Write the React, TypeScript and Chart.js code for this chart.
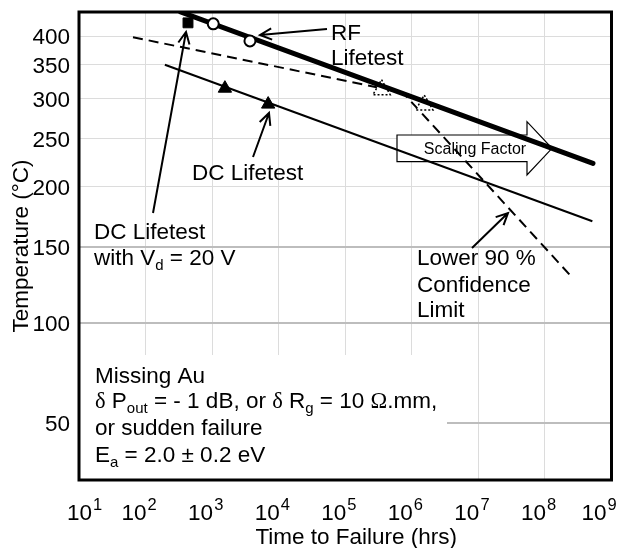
import React, { useEffect, useRef } from 'react';
import { Chart, registerables } from 'chart.js';

Chart.register(...registerables);

// ---------- data (time to failure in hours, temperature in °C) ----------
const rfFitTime = [335, 5.27e8];
const rfFitTemp = [449, 223];
const rfTime = [1040, 3700];
const rfTemp = [424, 391];
const dcVdTime = [434];
const dcVdTemp = [426];
const dcFitTime = [195, 5.16e8];
const dcFitTemp = [350, 170];
const dcTime = [1556, 6950];
const dcTemp = [314, 292];
const confTime = [64.7, 7.33e5, 2.61e8];
const confTemp = [398, 308, 128];
const extrapTime = [3.51e5, 1.54e6];
const extrapTemp = [312, 291];

const tempTicks = [50, 100, 150, 200, 250, 300, 350, 400];
const timeExponents = [1, 2, 3, 4, 5, 6, 7, 8, 9];
const tempTop = 448.8; // °C at top of plot
const tempBottom = 26.8; // °C at bottom of plot

const FONT = "'Liberation Sans', Arial, sans-serif";
const SERIF = "'Liberation Serif', 'Times New Roman', serif";
const FS = 22.5;

// Arrhenius transform: 1000 / T(K)
const inv = (T: number) => 1000 / (T + 273);
const pts = (ts: number[], Ts: number[]) => ts.map((t, i) => ({ x: t, y: inv(Ts[i]) }));

type Seg = [string, 'n' | 'sub' | 'serif'];

function rich(ctx: CanvasRenderingContext2D, x: number, y: number, segs: Seg[], size = FS) {
  let cx = x;
  ctx.textAlign = 'left';
  ctx.textBaseline = 'alphabetic';
  for (const [t, kind] of segs) {
    if (kind === 'sub') {
      ctx.font = `${Math.round(size * 0.68)}px ${FONT}`;
      ctx.fillText(t, cx, y + 5);
    } else if (kind === 'serif') {
      ctx.font = `${size}px ${SERIF}`;
      ctx.fillText(t, cx, y);
    } else {
      ctx.font = `${size}px ${FONT}`;
      ctx.fillText(t, cx, y);
    }
    cx += ctx.measureText(t).width;
  }
}

function arrow(ctx: CanvasRenderingContext2D, x1: number, y1: number, x2: number, y2: number) {
  const a = Math.atan2(y2 - y1, x2 - x1);
  const L = 13;
  const s = 0.45;
  ctx.beginPath();
  ctx.moveTo(x1, y1);
  ctx.lineTo(x2, y2);
  ctx.moveTo(x2 - L * Math.cos(a - s), y2 - L * Math.sin(a - s));
  ctx.lineTo(x2, y2);
  ctx.lineTo(x2 - L * Math.cos(a + s), y2 - L * Math.sin(a + s));
  ctx.stroke();
}

const dottedPlugin = {
  id: 'dottedPoints',
  beforeDatasetDraw(chart: any, args: any) {
    const ds = chart.data.datasets[args.index];
    if (ds && ds.dotted) {
      chart.ctx.save();
      chart.ctx.setLineDash([2, 2]);
    }
  },
  afterDatasetDraw(chart: any, args: any) {
    const ds = chart.data.datasets[args.index];
    if (ds && ds.dotted) chart.ctx.restore();
  },
};

const annotPlugin = {
  id: 'annotations',
  beforeDatasetsDraw(chart: any) {
    const ctx: CanvasRenderingContext2D = chart.ctx;
    ctx.save();
    // white text box bottom-left
    ctx.fillStyle = '#fff';
    ctx.fillRect(80, 355, 367, 124);
    // Scaling factor block arrow
    ctx.beginPath();
    ctx.moveTo(397, 135);
    ctx.lineTo(527, 135);
    ctx.lineTo(527, 121.7);
    ctx.lineTo(552, 148.3);
    ctx.lineTo(527, 175);
    ctx.lineTo(527, 161.7);
    ctx.lineTo(397, 161.7);
    ctx.closePath();
    ctx.fillStyle = '#fff';
    ctx.fill();
    ctx.lineWidth = 1.2;
    ctx.strokeStyle = '#000';
    ctx.stroke();
    ctx.fillStyle = '#000';
    ctx.font = `16px ${FONT}`;
    ctx.textAlign = 'center';
    ctx.textBaseline = 'alphabetic';
    ctx.fillText('Scaling Factor', 475, 153.5);
    ctx.restore();
  },
  afterDatasetsDraw(chart: any) {
    const ctx: CanvasRenderingContext2D = chart.ctx;
    ctx.save();
    ctx.fillStyle = '#000';
    ctx.strokeStyle = '#000';
    ctx.lineWidth = 2;
    rich(ctx, 331, 40, [['RF', 'n']]);
    rich(ctx, 331, 65, [['Lifetest', 'n']]);
    rich(ctx, 192, 180, [['DC Lifetest', 'n']]);
    rich(ctx, 94, 239, [['DC Lifetest', 'n']]);
    rich(ctx, 94, 265, [['with V', 'n'], ['d', 'sub'], [' = 20 V', 'n']]);
    rich(ctx, 417, 265, [['Lower 90 %', 'n']]);
    rich(ctx, 417, 291.7, [['Confidence', 'n']]);
    rich(ctx, 417, 316.7, [['Limit', 'n']]);
    rich(ctx, 95, 382.7, [['Missing Au', 'n']]);
    rich(ctx, 95, 408.3, [
      ['δ', 'serif'], [' P', 'n'], ['out', 'sub'], [' = - 1 dB, or ', 'n'],
      ['δ', 'serif'], [' R', 'n'], ['g', 'sub'], [' = 10 ', 'n'], ['Ω', 'serif'], ['.mm,', 'n'],
    ]);
    rich(ctx, 95, 435, [['or sudden failure', 'n']]);
    rich(ctx, 95, 461.7, [['E', 'n'], ['a', 'sub'], [' = 2.0 ± 0.2 eV', 'n']]);
    arrow(ctx, 327, 29, 260, 35);
    arrow(ctx, 253, 157, 269, 113);
    arrow(ctx, 153, 213, 186, 32);
    arrow(ctx, 472, 248, 508, 213);
    ctx.restore();
  },
  afterDraw(chart: any) {
    const ctx: CanvasRenderingContext2D = chart.ctx;
    const xs = chart.scales.x;
    const area = chart.chartArea;
    ctx.save();
    ctx.fillStyle = '#000';
    ctx.textBaseline = 'alphabetic';
    const n = xs.ticks.length;
    xs.ticks.forEach((tk: any, i: number) => {
      const px = xs.getPixelForValue(tk.value);
      let off = 0;
      if (i === 0) off = 12;
      if (i === n - 1) off = -6;
      const e = Math.round(Math.log10(tk.value));
      ctx.font = `${FS}px ${FONT}`;
      ctx.textAlign = 'right';
      ctx.fillText('10', px + 1 + off, 520);
      ctx.font = `16.5px ${FONT}`;
      ctx.textAlign = 'left';
      ctx.fillText(String(e), px + 2 + off, 510);
    });
    // x axis title
    ctx.font = `${FS}px ${FONT}`;
    ctx.textAlign = 'center';
    ctx.fillText('Time to Failure (hrs)', (area.left + area.right) / 2 + 11, 543.5);
    ctx.lineWidth = 3;
    ctx.strokeStyle = '#000';
    ctx.strokeRect(area.left, area.top, area.right - area.left, area.bottom - area.top);
    ctx.restore();
  },
};

export default function App() {
  const ref = useRef<HTMLCanvasElement | null>(null);
  useEffect(() => {
    document.body.style.margin = '0';
    const canvas = ref.current;
    if (!canvas) return;
    const chart = new Chart(canvas, {
      type: 'line',
      data: {
        datasets: [
          {
            label: 'DC Lifetest Vd=20V',
            data: pts(dcVdTime, dcVdTemp),
            showLine: false,
            pointStyle: 'rect',
            pointRadius: 7,
            pointBackgroundColor: '#000',
            pointBorderColor: '#000',
            pointBorderWidth: 1,
          },
          {
            label: 'RF Lifetest',
            data: pts(rfTime, rfTemp),
            showLine: false,
            pointStyle: 'circle',
            pointRadius: 5.5,
            pointBackgroundColor: '#fff',
            pointBorderColor: '#000',
            pointBorderWidth: 2,
          },
          {
            label: 'DC Lifetest',
            data: pts(dcTime, dcTemp),
            showLine: false,
            pointStyle: 'triangle',
            pointRadius: 7.7,
            pointBackgroundColor: '#000',
            pointBorderColor: '#000',
            pointBorderWidth: 1,
          },
          {
            label: 'RF fit',
            data: pts(rfFitTime, rfFitTemp),
            borderColor: '#000',
            borderWidth: 5,
            pointRadius: 0,
            borderCapStyle: 'round',
          },
          {
            label: 'Extrapolated',
            data: pts(extrapTime, extrapTemp),
            showLine: false,
            pointStyle: 'triangle',
            pointRadius: 10,
            pointBackgroundColor: '#fff',
            pointBorderColor: '#000',
            pointBorderWidth: 1.5,
            dotted: true,
          } as any,
          {
            label: 'Lower 90 % Confidence Limit',
            data: pts(confTime, confTemp),
            borderColor: '#000',
            borderWidth: 2,
            borderDash: [10, 6],
            pointRadius: 0,
          },
          {
            label: 'DC fit',
            data: pts(dcFitTime, dcFitTemp),
            borderColor: '#000',
            borderWidth: 2,
            pointRadius: 0,
          },
        ],
      },
      options: {
        responsive: false,
        animation: false,
        devicePixelRatio: 1,
        events: [],
        layout: { padding: { top: 12, right: 11, left: 0, bottom: 0 } },
        plugins: { legend: { display: false }, tooltip: { enabled: false } },
        scales: {
          x: {
            type: 'logarithmic',
            min: Math.pow(10, timeExponents[0]),
            max: Math.pow(10, timeExponents[timeExponents.length - 1]),
            afterBuildTicks: (s: any) => {
              s.ticks = timeExponents.map((e) => ({ value: Math.pow(10, e) }));
            },
            afterFit: (s: any) => {
              s.height = 68;
              s.paddingLeft = 0;
              s.paddingRight = 0;
            },
            ticks: { display: false },
            grid: { color: '#dcdcdc', lineWidth: 1, drawTicks: false },
            border: { display: false },
            title: { display: false },
          },
          y: {
            type: 'linear',
            reverse: true,
            min: inv(tempTop),
            max: inv(tempBottom),
            afterBuildTicks: (s: any) => {
              s.ticks = tempTicks.map((T) => ({ value: inv(T) }));
            },
            afterFit: (s: any) => {
              s.width = 79;
              s.paddingTop = 0;
              s.paddingBottom = 0;
            },
            ticks: {
              autoSkip: false,
              color: '#000',
              padding: 9,
              labelOffset: 2,
              font: { family: FONT, size: FS },
              callback: (v: any) => String(Math.round(1000 / Number(v) - 273)),
            },
            grid: {
              drawTicks: false,
              color: (c: any) => {
                const v = c.tick ? c.tick.value : 0;
                const T = 1000 / v - 273;
                return T < 175 ? '#bdbdbd' : '#dcdcdc';
              },
              lineWidth: (c: any) => {
                const v = c.tick ? c.tick.value : 0;
                const T = 1000 / v - 273;
                return T < 175 ? 2 : 1;
              },
            },
            border: { display: false },
            title: {
              display: true,
              text: 'Temperature (°C)',
              color: '#000',
              font: { family: FONT, size: FS },
              padding: { top: 8.5, bottom: 0 },
            },
          },
        },
      },
      plugins: [dottedPlugin, annotPlugin],
    } as any);
    return () => chart.destroy();
  }, []);
  return (
    <div style={{ width: 623, height: 548, background: '#fff' }}>
      <canvas ref={ref} width={623} height={548} style={{ display: 'block' }} />
    </div>
  );
}
